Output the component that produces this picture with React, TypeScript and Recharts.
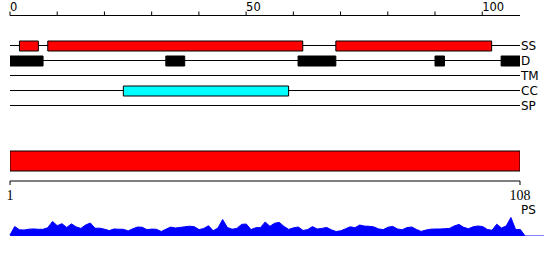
import { BarChart, Bar, Cell, XAxis, YAxis, ReferenceLine, AreaChart, Area, ComposedChart } from 'recharts'

const TRACKS = ['SS', 'D', 'TM', 'CC', 'SP']

const TRACK_COLORS: Record<string, string> = {
  SS: '#ff0000',
  D: '#000000',
  TM: '#ffffff',
  CC: '#00ffff',
  SP: '#ffffff',
}

// residue ranges per track
const SS_SEGMENTS = [[2, 6], [8, 62], [69, 102]]
const D_SEGMENTS = [[0, 7], [33, 37], [61, 69], [90, 92], [104, 108]]
const TM_SEGMENTS: number[][] = []
const CC_SEGMENTS = [[24, 59]]
const SP_SEGMENTS: number[][] = []

const SEQ_LENGTH = 108
const RULER_TICKS = [0, 10, 20, 30, 40, 50, 60, 70, 80, 90, 100]
const RULER_LABELS = [0, 50, 100]
const CHAIN_RANGE = [1, 108]

const PS_VALUES = [
  1, 9.5, 6.2, 6, 6.8, 7.1, 6.7, 6.7, 8.3, 14.6,
  10.3, 12.3, 8.6, 12.1, 9.1, 7.6, 11, 13, 7.8, 7.8,
  6.8, 5.4, 7, 6.8, 6.7, 5.1, 7.2, 9, 8.7, 6.3,
  6.9, 6.7, 4.5, 6.8, 8.9, 8, 8.6, 9.2, 9.8, 9.3,
  6.4, 7.5, 10.3, 5.3, 8, 16.5, 8.5, 6.8, 7.6, 11.6,
  12, 6.4, 8.3, 8.4, 14, 9.7, 12.8, 13.6, 9.5, 6.6,
  8.2, 9, 5.6, 6.4, 9.4, 7, 7.6, 8.6, 6.2, 4.5,
  5.2, 7.2, 9.2, 8.3, 11, 9.9, 9.7, 9.1, 7.1, 6.4,
  8.8, 9.6, 7, 6.3, 8.4, 9, 6.6, 4.6, 5.9, 6.8,
  7, 7, 7.3, 7.6, 10, 11.6, 8.7, 7.3, 9.2, 10,
  9.5, 6.6, 5.7, 11.8, 8, 10, 18.5, 6.4, 6.5, 0,
  0, 0, 0, 0,
]

const SEGMENTS: Record<string, number[][]> = {
  SS: SS_SEGMENTS,
  D: D_SEGMENTS,
  TM: TM_SEGMENTS,
  CC: CC_SEGMENTS,
  SP: SP_SEGMENTS,
}

const MAX_SEGS = Math.max(...TRACKS.map((t) => SEGMENTS[t].length))
const SEG_KEYS = Array.from({ length: MAX_SEGS }, (_, i) => `seg${i}`)

const trackRows = TRACKS.map((track) => {
  const row: Record<string, any> = { track }
  SEGMENTS[track].forEach((seg, i) => {
    row[`seg${i}`] = seg
  })
  return row
})

const rulerData = RULER_TICKS.map((pos) => ({ pos }))
const chainData = [{ name: 'chain', range: CHAIN_RANGE }]
const psData = PS_VALUES.map((ps, pos) => ({ pos, ps }))

const SANS = '"DejaVu Sans", sans-serif'
const SERIF = '"Liberation Serif", serif'

function RulerTick({ x, y, payload }: any) {
  if (!RULER_LABELS.includes(payload.value)) return <g />
  return (
    <text x={x} y={y} textAnchor="start" fontSize={11.5} fontFamily={SANS} fill="#000">
      {payload.value}
    </text>
  )
}

const layer: React.CSSProperties = { position: 'absolute', left: 0, top: 0 }

export default function App() {
  return (
    <div style={{ position: 'absolute', left: 0, top: 0, width: 550, height: 260, background: '#fff', fontFamily: SANS }}>
      {/* ruler */}
      <div style={layer}>
        <ComposedChart width={550} height={20} data={rulerData} margin={{ top: 0, right: 30, bottom: 0, left: 10 }}>
          <XAxis
            xAxisId="ruler"
            dataKey="pos"
            type="number"
            orientation="top"
            domain={[0, SEQ_LENGTH]}
            allowDataOverflow
            ticks={RULER_TICKS}
            interval={0}
            height={15.5}
            tickSize={4}
            tickMargin={1}
            stroke="#000"
            tick={<RulerTick />}
          />
        </ComposedChart>
      </div>

      {/* feature tracks */}
      <div style={layer}>
        <BarChart
          width={550}
          height={113}
          data={trackRows}
          layout="vertical"
          barSize={10}
          barGap={-10}
          margin={{ top: 38, right: 0, bottom: 0, left: 10 }}
        >
          <XAxis type="number" domain={[0, SEQ_LENGTH]} allowDataOverflow hide />
          <YAxis
            type="category"
            dataKey="track"
            orientation="right"
            width={30}
            tickSize={0}
            tickMargin={1}
            axisLine={false}
            tickLine={false}
            interval={0}
            tick={{ fill: '#000', fontSize: 12, fontFamily: SANS }}
          />
          {TRACKS.map((t) => (
            <ReferenceLine key={t} y={t} stroke="#000" strokeWidth={1} zIndex={50} />
          ))}
          {SEG_KEYS.map((k) => (
            <Bar key={k} dataKey={k} stroke="#000" strokeWidth={1} isAnimationActive={false}>
              {trackRows.map((row) => (
                <Cell key={row.track} fill={TRACK_COLORS[row.track]} />
              ))}
            </Bar>
          ))}
        </BarChart>
      </div>

      {/* full chain */}
      <div style={layer}>
        <BarChart
          width={550}
          height={211}
          data={chainData}
          layout="vertical"
          barSize={20}
          margin={{ top: 141, right: 30, bottom: 0, left: 10 }}
        >
          <XAxis
            type="number"
            domain={CHAIN_RANGE}
            allowDataOverflow
            ticks={CHAIN_RANGE}
            interval={0}
            height={30}
            tickSize={4}
            tickMargin={5}
            stroke="#000"
            tick={{ fill: '#000', fontSize: 14, fontFamily: SERIF }}
          />
          <YAxis type="category" dataKey="name" hide />
          <Bar dataKey="range" fill="#ff0000" stroke="#000" strokeWidth={1} isAnimationActive={false} />
        </BarChart>
      </div>

      {/* PS profile */}
      <div style={layer}>
        <AreaChart width={550} height={236} data={psData} margin={{ top: 216, right: 6, bottom: 0, left: 10 }}>
          <XAxis dataKey="pos" type="number" domain={[0, PS_VALUES.length - 1]} hide />
          <YAxis domain={[0, 20]} allowDataOverflow hide />
          <Area
            type="linear"
            dataKey="ps"
            stroke="#0000ff"
            strokeWidth={1}
            fill="#0000ff"
            fillOpacity={1}
            dot={false}
            activeDot={false}
            isAnimationActive={false}
          />
        </AreaChart>
      </div>
      <div style={{ position: 'absolute', left: 521, top: 203, fontSize: 12, lineHeight: '14px', color: '#000' }}>PS</div>
    </div>
  )
}
